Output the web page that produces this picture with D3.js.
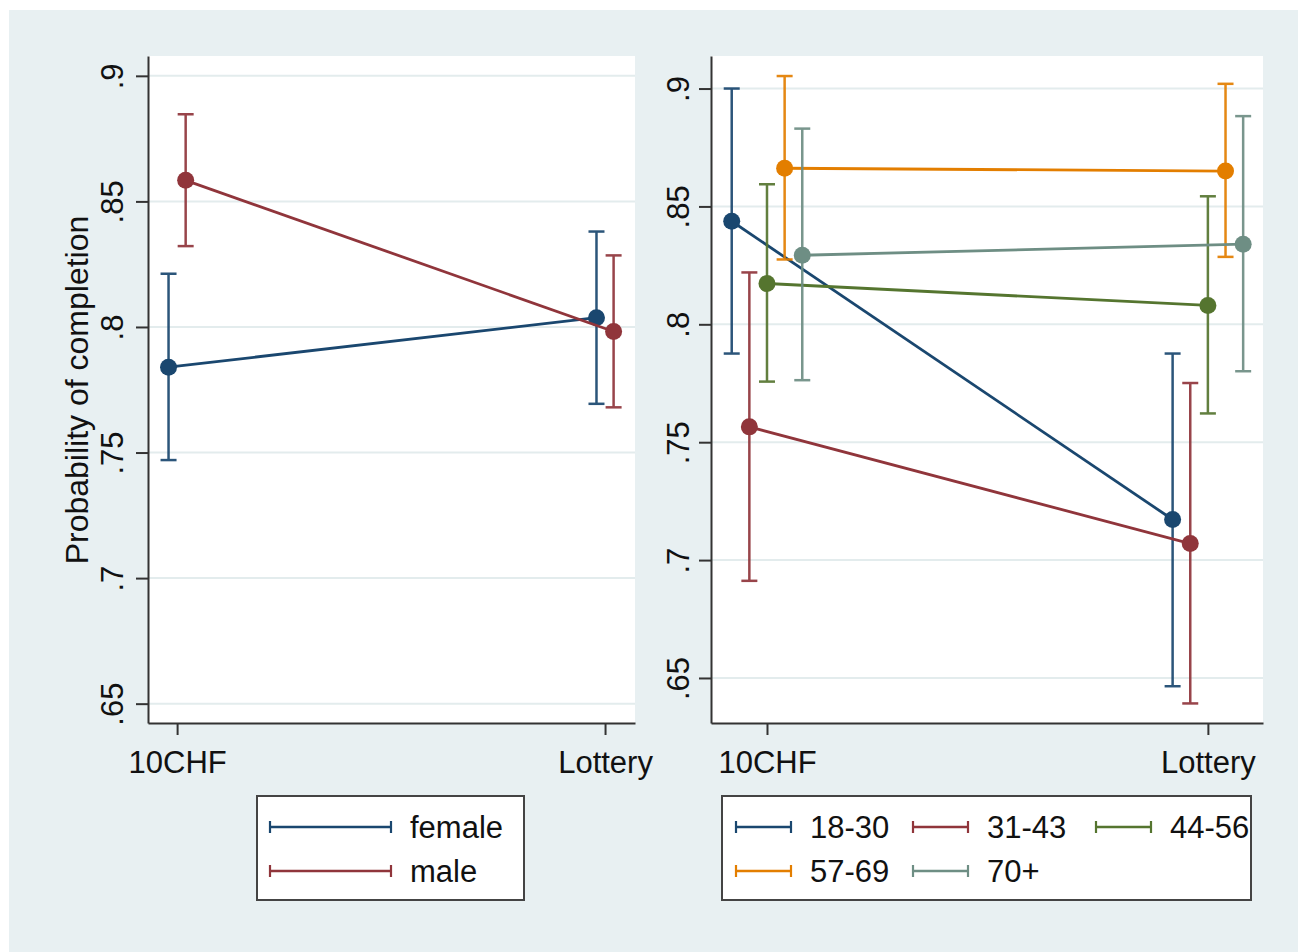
<!DOCTYPE html>
<html>
<head>
<meta charset="utf-8">
<script src="https://cdn.jsdelivr.net/npm/d3@7"></script>
<style>
  body { margin: 0; background: #fff; }
  svg text { font-family: "Liberation Sans", Arial, sans-serif; fill: #111; }
</style>
</head>
<body>
<script>
// categories on the x axis
var categories = ["10CHF", "Lottery"];
var yTicks = [0.65, 0.7, 0.75, 0.8, 0.85, 0.9];

// left panel: gender
var genderGroups = ["female", "male"];
var genderMean = [[0.784, 0.8037], [0.8584, 0.7982]];
var genderLo   = [[0.747, 0.7694], [0.8322, 0.768]];
var genderHi   = [[0.8212, 0.838], [0.8847, 0.8285]];

// right panel: age groups
var ageGroups = ["18-30", "31-43", "44-56", "57-69", "70+"];
var ageMean = [[0.8437, 0.7172], [0.7565, 0.707], [0.8173, 0.808], [0.8662, 0.865], [0.8293, 0.834]];
var ageLo   = [[0.7876, 0.6465], [0.6912, 0.6392], [0.7757, 0.7622], [0.8275, 0.8286], [0.7763, 0.7801]];
var ageHi   = [[0.900, 0.7876], [0.822, 0.7751], [0.8594, 0.8543], [0.9053, 0.902], [0.883, 0.8883]];

var genderColors = ["#1a476f", "#90353b"];
var ageColors = ["#1a476f", "#90353b", "#55752f", "#e37e00", "#6e8e84"];

var W = 1298, H = 952;
var svg = d3.select("body").append("svg")
    .attr("width", W)
    .attr("height", H);

// graph region background
svg.append("rect")
   .attr("x", 9).attr("y", 10)
   .attr("width", W - 9).attr("height", H - 10)
   .attr("fill", "#e8f0f2");

var fmt = function(d){ return String(d).replace(/^0/, ""); };

function panel(opts)
{
  var x = d3.scaleLinear().domain(opts.xDomain).range([opts.left, opts.right]);
  var y = d3.scaleLinear().domain(opts.yDomain).range([opts.bottom, opts.top]);

  var g = svg.append("g");

  g.append("rect")
   .attr("x", opts.left).attr("y", opts.top)
   .attr("width", opts.right - opts.left)
   .attr("height", opts.bottom - opts.top)
   .attr("fill", "#fff");

  g.selectAll(".grid")
   .data(yTicks)
   .enter()
   .append("line")
   .attr("x1", opts.left).attr("x2", opts.right)
   .attr("y1", function(d){ return y(d); })
   .attr("y2", function(d){ return y(d); })
   .attr("stroke", "#e3eced")
   .attr("stroke-width", 2);

  // y axis
  var ya = g.append("g")
            .attr("transform", "translate(" + opts.left + ",0)")
            .call(d3.axisLeft(y).tickValues(yTicks).tickFormat(fmt).tickSize(12).tickSizeOuter(0));
  ya.selectAll("text")
    .attr("x", null).attr("dy", null)
    .attr("text-anchor", "middle")
    .attr("transform", "translate(" + opts.labelOff + ",0) rotate(-90)")
    .style("font-size", "31px");

  // x axis
  var xa = g.append("g")
            .attr("transform", "translate(0," + opts.bottom + ")")
            .call(d3.axisBottom(x).tickValues([0, 1])
                    .tickFormat(function(d){ return categories[d]; })
                    .tickSize(12).tickPadding(16).tickSizeOuter(0));
  xa.selectAll("text").style("font-size", "31px");

  [ya, xa].forEach(function(a){
    a.select(".domain").attr("stroke", "#333").attr("stroke-width", 2);
    a.selectAll(".tick line").attr("stroke", "#333").attr("stroke-width", 2);
  });

  // lines, error bars, markers
  opts.groups.forEach(function(name, gi){
    var off = opts.offsets[gi];
    var col = opts.colors[gi];
    var pts = [0, 1].map(function(c){
      return {x: c + off, m: opts.mean[gi][c], lo: opts.lo[gi][c], hi: opts.hi[gi][c]};
    });

    g.append("path")
     .datum(pts)
     .attr("fill", "none")
     .attr("stroke", col)
     .attr("stroke-width", 2.8)
     .attr("d", d3.line().x(function(d){ return x(d.x); }).y(function(d){ return y(d.m); }));

    var eb = g.selectAll(null).data(pts).enter().append("g").attr("stroke", col).attr("stroke-width", 2.5).attr("opacity", 0.92);
    eb.append("line")
      .attr("x1", function(d){ return x(d.x); }).attr("x2", function(d){ return x(d.x); })
      .attr("y1", function(d){ return y(d.lo); }).attr("y2", function(d){ return y(d.hi); });
    ["lo", "hi"].forEach(function(k){
      eb.append("line")
        .attr("x1", function(d){ return x(d.x) - 8; }).attr("x2", function(d){ return x(d.x) + 8; })
        .attr("y1", function(d){ return y(d[k]); }).attr("y2", function(d){ return y(d[k]); });
    });

    g.selectAll(null).data(pts).enter().append("circle")
     .attr("cx", function(d){ return x(d.x); })
     .attr("cy", function(d){ return y(d.m); })
     .attr("r", 8.5)
     .attr("fill", col);
  });

  return g;
}

panel({
  left: 148, right: 635, top: 56, bottom: 723,
  xDomain: [-0.068, 1.07], yDomain: [0.6423, 0.9079],
  labelOff: -25,
  groups: genderGroups, colors: genderColors,
  offsets: [-0.02, 0.02],
  mean: genderMean, lo: genderLo, hi: genderHi
});

panel({
  left: 711, right: 1263, top: 56, bottom: 723,
  xDomain: [-0.127, 1.125], yDomain: [0.6309, 0.9138],
  labelOff: -22,
  groups: ageGroups, colors: ageColors,
  offsets: [-0.08, -0.04, 0, 0.04, 0.08],
  mean: ageMean, lo: ageLo, hi: ageHi
});

// y axis title
svg.append("text")
   .attr("transform", "translate(88,390) rotate(-90)")
   .attr("text-anchor", "middle")
   .style("font-size", "32px")
   .text("Probability of completion");

// legends
function legend(x0, w, items, colors, pos)
{
  var lg = svg.append("g");
  lg.append("rect")
    .attr("x", x0).attr("y", 796)
    .attr("width", w).attr("height", 104)
    .attr("fill", "#fff")
    .attr("stroke", "#444")
    .attr("stroke-width", 2);

  var it = lg.selectAll(null).data(items).enter().append("g")
             .attr("transform", function(d, i){ return "translate(" + pos[i][0] + "," + pos[i][1] + ")"; })
             .attr("stroke", function(d, i){ return colors[i]; });
  var kw = pos.keyW;
  it.append("line").attr("x1", 0).attr("x2", kw).attr("y1", 0).attr("y2", 0).attr("stroke-width", 2.6);
  it.append("line").attr("x1", 0).attr("x2", 0).attr("y1", -6).attr("y2", 6).attr("stroke-width", 2.2);
  it.append("line").attr("x1", kw).attr("x2", kw).attr("y1", -6).attr("y2", 6).attr("stroke-width", 2.2);
  it.append("text")
    .attr("x", kw + 19)
    .attr("y", 11)
    .attr("stroke", "none")
    .style("font-size", "31px")
    .text(function(d){ return d; });
}

var gPos = [[270, 827], [270, 871]];
gPos.keyW = 121;
legend(257, 267, genderGroups, genderColors, gPos);

var aPos = [[736, 827], [913, 827], [1096, 827], [736, 871], [913, 871]];
aPos.keyW = 55;
legend(722, 529, ageGroups, ageColors, aPos);
</script>
</body>
</html>
